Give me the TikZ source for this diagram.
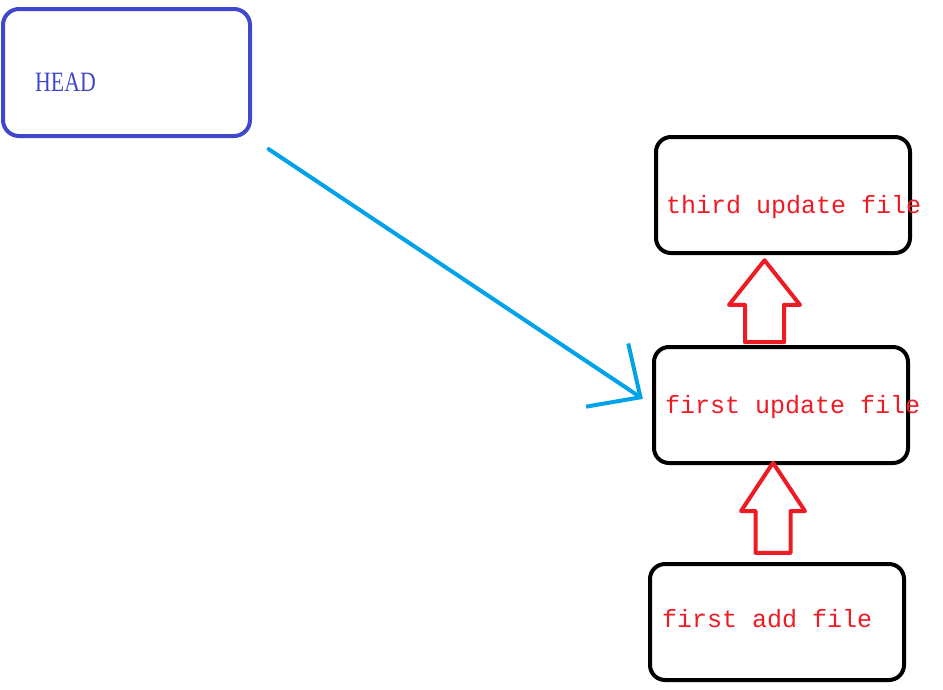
\documentclass[tikz,border=0pt]{standalone}
\usepackage{fontspec}
\setmainfont{Liberation Serif}
\newfontfamily\labelfont{Liberation Mono}
\newfontfamily\headfont[FakeStretch=0.78]{Liberation Serif}
\usetikzlibrary{arrows.meta,shapes.arrows,calc}
\definecolor{headblue}{RGB}{63,72,204}
\definecolor{paintred}{RGB}{237,28,36}
\definecolor{paintcyan}{RGB}{0,162,232}

\begin{document}
\begin{tikzpicture}[x=1pt, y=-1pt,
        box/.style={draw=black, line width=4pt, rounded corners=15pt, minimum width=254pt, minimum height=116pt, inner sep=0pt},
        lbl/.style={anchor=base west, inner sep=0pt, text=paintred, font=\labelfont\fontsize{25}{25}\selectfont},
        uparrow/.style={shape=single arrow, draw=paintred, line width=4pt, line join=round, rotate=90, inner xsep=0pt},
        pointer/.style={draw=paintcyan, line width=4pt, line cap=round, -{Straight Barb[length=40pt, width=76pt]}}]
        \useasboundingbox (0,0) rectangle (943,689);
        \node[box, draw=headblue, rounded corners=16pt, minimum width=247pt, minimum height=127pt] (head) at (126.5,72.5) {};
        \node[box] (upd3) at (783,195) {};
        \node[box] (upd1) at (781,405) {};
        \node[box] (add) at (777,622) {};
        \node[lbl, text=headblue, font=\headfont\fontsize{28}{28}\selectfont] (headtxt) at ([shift={(34,18.5)}]head.west) {HEAD};
        \node[lbl] (upd3txt) at ([shift={(12,18)}]upd3.west) {third update file};
        \node[lbl] (upd1txt) at ([shift={(13,8)}]upd1.west) {first update file};
        \node[lbl] (addtxt) at ([shift={(14,5)}]add.west) {first add file};
        \node[uparrow, minimum height=90pt, minimum width=60pt, inner ysep=15.5pt, single arrow head extend=14.5pt, single arrow tip angle=67] (addup) at ($(add.north)!0.5!(upd1.south)+(-6,7.5)$) {};
        \node[uparrow, minimum height=82pt, minimum width=67pt, inner ysep=17.5pt, single arrow head extend=16pt, single arrow tip angle=77] (updup) at ($(upd1.north)!0.5!(upd3.south)+(-17.5,13.5)$) {};
        \draw[pointer, shorten <=20pt, shorten >=11pt] (head.south east) -- (upd1.west);
\end{tikzpicture}
\end{document}
